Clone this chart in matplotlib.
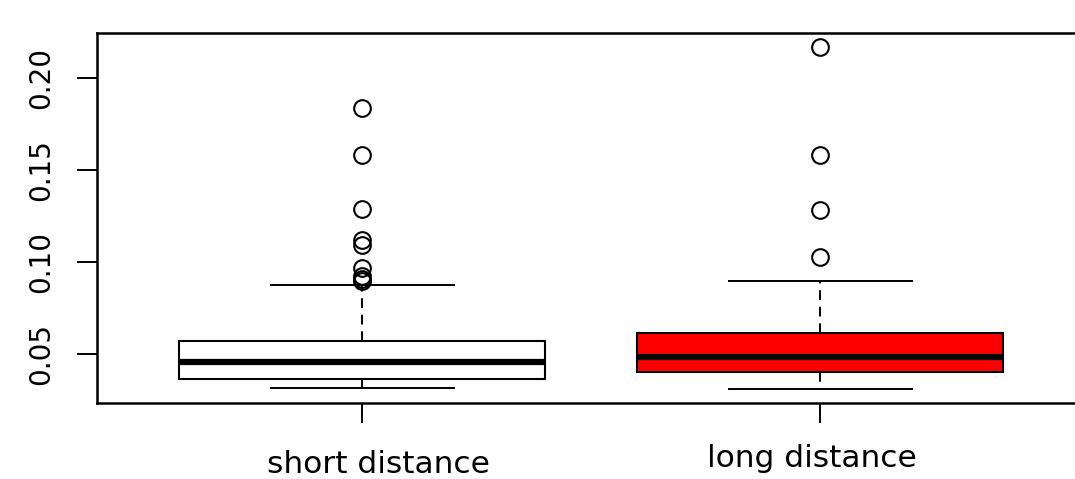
import matplotlib
matplotlib.use("Agg")
import matplotlib.pyplot as plt

# box statistics
groups = ["short distance", "long distance"]
box_colors = ["white", "red"]
whislo = [0.0315, 0.0310]
q1 = [0.0364, 0.0402]
med = [0.0457, 0.0484]
q3 = [0.0570, 0.0614]
whishi = [0.0875, 0.0897]
fliers_short = [0.1840, 0.1580, 0.1290, 0.1120, 0.1090, 0.0970, 0.0925, 0.0910, 0.0898]
fliers_long = [0.2168, 0.1580, 0.1283, 0.1027]
fliers = [fliers_short, fliers_long]

stats = []
for i, name in enumerate(groups):
    stats.append({"label": name, "whislo": whislo[i], "q1": q1[i], "med": med[i],
                  "q3": q3[i], "whishi": whishi[i], "fliers": fliers[i]})

fig = plt.figure(figsize=(10.75, 4.79), dpi=100)
ax = fig.add_axes([0.0902, 0.1587, 0.9196, 0.7724])

bp = ax.bxp(stats, positions=[1, 2], widths=0.8, patch_artist=True,
            boxprops=dict(edgecolor="black", linewidth=1.5),
            medianprops=dict(color="black", linewidth=4.5, solid_capstyle="butt"),
            whiskerprops=dict(color="black", linewidth=1.4, linestyle=(0, (5, 3.5))),
            capprops=dict(color="black", linewidth=1.4),
            flierprops=dict(marker="o", markerfacecolor="none", markeredgecolor="black",
                            markersize=12, markeredgewidth=1.5))
for patch, c in zip(bp["boxes"], box_colors):
    patch.set_facecolor(c)

ax.set_xlim(0.42, 2.58)
ax.set_ylim(0.0234, 0.2245)
ax.set_yticks([0.05, 0.10, 0.15, 0.20])
ax.set_yticklabels(["0.05", "0.10", "0.15", "0.20"], rotation=90, va="center", fontsize=20)
ax.set_xticks([1, 2])
ax.set_xticklabels(["", ""])
ax.tick_params(axis="both", length=14.4, width=1.4)
ax.tick_params(axis="y", pad=16)

# group labels: placed where they sit in the original (not exactly under the ticks)
label_x = [378, 812]
label_base = [473, 467]
for i, name in enumerate(groups):
    fig.text(label_x[i] / 1075, (479 - label_base[i]) / 479, name,
             fontsize=22.5, ha="center", va="baseline")

for s in ax.spines.values():
    s.set_linewidth(1.8)

fig.savefig("out.png", dpi=100)
